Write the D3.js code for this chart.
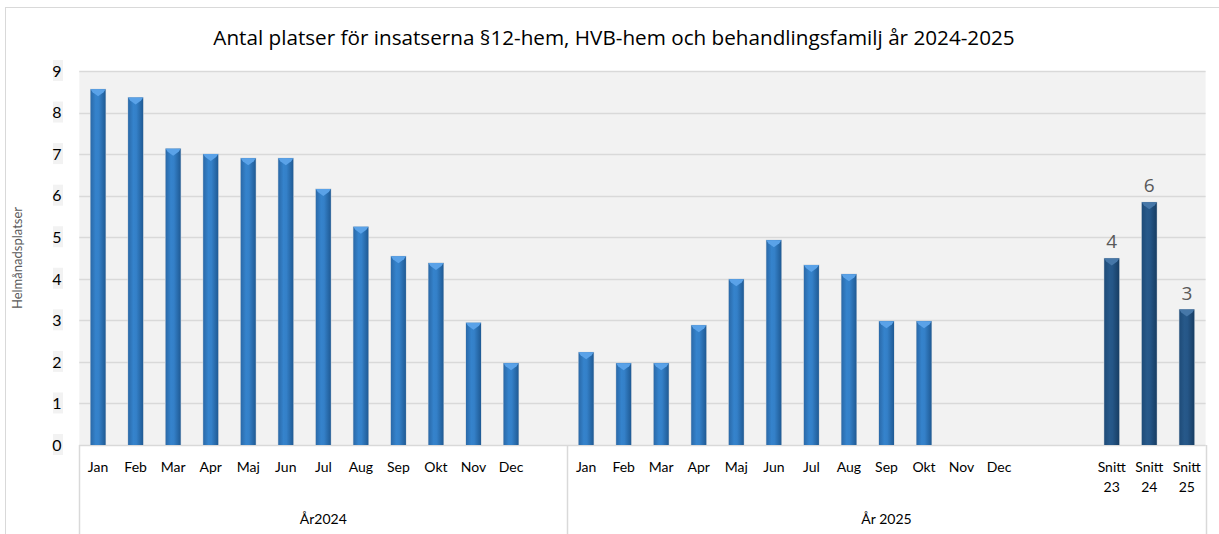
<!DOCTYPE html>
<html>
<head>
<meta charset="utf-8">
<script src="https://cdn.jsdelivr.net/npm/d3@7/dist/d3.min.js"></script>
<style>
  body { margin: 0; background: #fff; }
  text { font-family: Lato, "Open Sans", sans-serif; }
</style>
</head>
<body>
<div id="chart"></div>
<script>
var title = "Antal platser för insatserna §12-hem, HVB-hem och behandlingsfamilj  år 2024-2025";
var yTitle = "Helmånadsplatser";
var months = ["Jan","Feb","Mar","Apr","Maj","Jun","Jul","Aug","Sep","Okt","Nov","Dec"];
var values2024 = [8.56, 8.36, 7.13, 7.0, 6.9, 6.9, 6.16, 5.25, 4.54, 4.38, 2.94, 1.97];
var values2025 = [2.23, 1.97, 1.97, 2.88, 3.99, 4.93, 4.33, 4.11, 2.98, 2.98, null, null];
var snittLabels = [["Snitt","23"], ["Snitt","24"], ["Snitt","25"]];
var snittValues = [4.49, 5.84, 3.26];
var groupLabels = ["År2024", "År 2025"];
var yTicks = [0,1,2,3,4,5,6,7,8,9];

var width = 1219, height = 534;
var plot = { left: 79.3, right: 1205.6, top: 71, bottom: 445 };

//build category slots: 12 months + gap, 12 months + 2 gaps + 3 averages
var slots = [];
months.forEach(function(m, i) { slots.push({ label: [m], value: values2024[i], kind: "m", group: 0 }); });
slots.push({ label: [""], value: null, kind: "gap", group: 0 });
months.forEach(function(m, i) { slots.push({ label: [m], value: values2025[i], kind: "m", group: 1 }); });
slots.push({ label: [""], value: null, kind: "gap", group: 1 });
slots.push({ label: [""], value: null, kind: "gap", group: 1 });
snittLabels.forEach(function(l, i) { slots.push({ label: l, value: snittValues[i], kind: "s", group: 1 }); });
slots.forEach(function(d, i) { d.idx = i; });

var x = d3.scaleBand().domain(d3.range(slots.length)).range([plot.left, plot.right]).padding(0);
var y = d3.scaleLinear().domain([0, 9]).range([plot.bottom, plot.top]);

var svg = d3.select("#chart").append("svg")
    .attr("width", width)
    .attr("height", height);

var defs = svg.append("defs");
function grad(id, stops) {
    var g = defs.append("linearGradient").attr("id", id)
        .attr("x1", "0%").attr("x2", "100%").attr("y1", "0%").attr("y2", "0%");
    stops.forEach(function(s) { g.append("stop").attr("offset", s[0]).attr("stop-color", s[1]); });
}
grad("barM", [["0%", "#2a69a8"], ["35%", "#3583cc"], ["55%", "#3480c8"], ["100%", "#1f5a94"]]);
grad("barS", [["0%", "#1e4b78"], ["35%", "#27598a"], ["55%", "#255687"], ["100%", "#173d63"]]);

//chart frame
svg.append("rect")
    .attr("x", 5.5).attr("y", 7.5)
    .attr("width", 1230).attr("height", 540)
    .attr("fill", "#fff").attr("stroke", "#d9d9d9");

//plot area
svg.append("rect")
    .attr("x", plot.left).attr("y", plot.top)
    .attr("width", plot.right - plot.left).attr("height", plot.bottom - plot.top)
    .attr("fill", "#f2f2f2");

svg.selectAll("line.grid")
    .data(yTicks)
    .enter()
    .append("line")
    .attr("class", "grid")
    .attr("x1", plot.left).attr("x2", plot.right)
    .attr("y1", function(d) { return Math.round(y(d)) + 0.5; })
    .attr("y2", function(d) { return Math.round(y(d)) + 0.5; })
    .attr("stroke", "#d9d9d9").attr("stroke-width", 1.5);

//y tick labels
var yt = svg.selectAll("g.ytick")
    .data(yTicks)
    .enter()
    .append("g")
    .attr("class", "ytick")
    .attr("transform", function(d) { return "translate(57," + y(d) + ")"; });
yt.append("rect")
    .attr("x", -4).attr("y", -11).attr("width", 10).attr("height", 21)
    .attr("fill", "#f2f2f2");
yt.append("text")
    .text(function(d) { return d; })
    .attr("text-anchor", "middle")
    .attr("dy", "0.36em")
    .attr("font-size", 16)
    .attr("fill", "#000");

//y axis title
svg.append("text")
    .text(yTitle)
    .attr("transform", "translate(22," + ((plot.top + plot.bottom) / 2) + ") rotate(-90)")
    .attr("text-anchor", "middle")
    .attr("font-size", 13)
    .attr("fill", "#595959");

//title, sized to the reference width
var t = svg.append("text")
    .text(title)
    .attr("x", 614).attr("y", 45)
    .attr("text-anchor", "middle")
    .attr("font-size", 20)
    .style("font-family", "'Open Sans', sans-serif")
    .attr("fill", "#000");
var tl = t.node().getComputedTextLength();
t.attr("font-size", 20 * 802 / tl);

//bars
var bw = x.bandwidth() * 0.4;
var barData = slots.filter(function(d) { return d.value != null; });

var bars = svg.selectAll("g.bar")
    .data(barData)
    .enter()
    .append("g")
    .attr("class", "bar");

bars.append("rect")
    .attr("x", function(d) { return x(d.idx) + (x.bandwidth() - bw) / 2 - 0.5; })
    .attr("y", function(d) { return y(d.value) - 0.5; })
    .attr("width", bw + 1)
    .attr("height", function(d) { return plot.bottom - y(d.value) + 0.5; })
    .attr("fill", "#c8d0d8");

bars.append("rect")
    .attr("x", function(d) { return x(d.idx) + (x.bandwidth() - bw) / 2; })
    .attr("y", function(d) { return y(d.value); })
    .attr("width", bw)
    .attr("height", function(d) { return plot.bottom - y(d.value); })
    .attr("fill", function(d) { return d.kind === "s" ? "url(#barS)" : "url(#barM)"; });

//bevel cap on top of each bar
bars.append("path")
    .attr("d", function(d) {
        var x0 = x(d.idx) + (x.bandwidth() - bw) / 2, y0 = y(d.value);
        return "M" + x0 + "," + y0 + "L" + (x0 + bw) + "," + y0 +
               "L" + (x0 + bw - 2) + "," + (y0 + 3) + "L" + (x0 + bw / 2) + "," + (y0 + 7) +
               "L" + (x0 + 2) + "," + (y0 + 3) + "Z";
    })
    .attr("fill", function(d) { return d.kind === "s" ? "#4677a8" : "#5aa2e8"; });

//data labels on averages
svg.selectAll("text.dlabel")
    .data(barData.filter(function(d) { return d.kind === "s"; }))
    .enter()
    .append("text")
    .attr("class", "dlabel")
    .text(function(d) { return d3.format(".0f")(d.value); })
    .attr("x", function(d) { return x(d.idx) + x.bandwidth() / 2; })
    .attr("y", function(d) { return y(d.value) - 10; })
    .attr("text-anchor", "middle")
    .attr("font-size", 19)
    .style("font-family", "'Open Sans', sans-serif")
    .attr("fill", "#595959");

//category axis
svg.append("line")
    .attr("x1", plot.left).attr("x2", plot.right)
    .attr("y1", plot.bottom + 0.5).attr("y2", plot.bottom + 0.5)
    .attr("stroke", "#d9d9d9");

var groupEdges = [plot.left, x(13), plot.right];
svg.selectAll("line.div")
    .data(groupEdges)
    .enter()
    .append("line")
    .attr("class", "div")
    .attr("x1", function(d) { return Math.round(d) + 0.5; })
    .attr("x2", function(d) { return Math.round(d) + 0.5; })
    .attr("y1", plot.bottom).attr("y2", height)
    .attr("stroke", "#d9d9d9").attr("stroke-width", 1.5);

var cat = svg.selectAll("text.cat")
    .data(slots)
    .enter()
    .append("text")
    .attr("class", "cat")
    .attr("x", function(d) { return x(d.idx) + x.bandwidth() / 2; })
    .attr("y", 472)
    .attr("text-anchor", "middle")
    .attr("font-size", 14)
    .attr("fill", "#000");
cat.selectAll("tspan")
    .data(function(d) { return d.label.map(function(l) { return { t: l, cx: x(d.idx) + x.bandwidth() / 2 }; }); })
    .enter()
    .append("tspan")
    .attr("x", function(d) { return d.cx; })
    .attr("dy", function(d, i) { return i === 0 ? 0 : 20; })
    .text(function(d) { return d.t; });

svg.selectAll("text.group")
    .data(groupLabels)
    .enter()
    .append("text")
    .attr("class", "group")
    .text(function(d) { return d; })
    .attr("x", function(d, i) { return (groupEdges[i] + groupEdges[i + 1]) / 2; })
    .attr("y", 524)
    .attr("text-anchor", "middle")
    .attr("font-size", 14)
    .attr("fill", "#000");
</script>
</body>
</html>
